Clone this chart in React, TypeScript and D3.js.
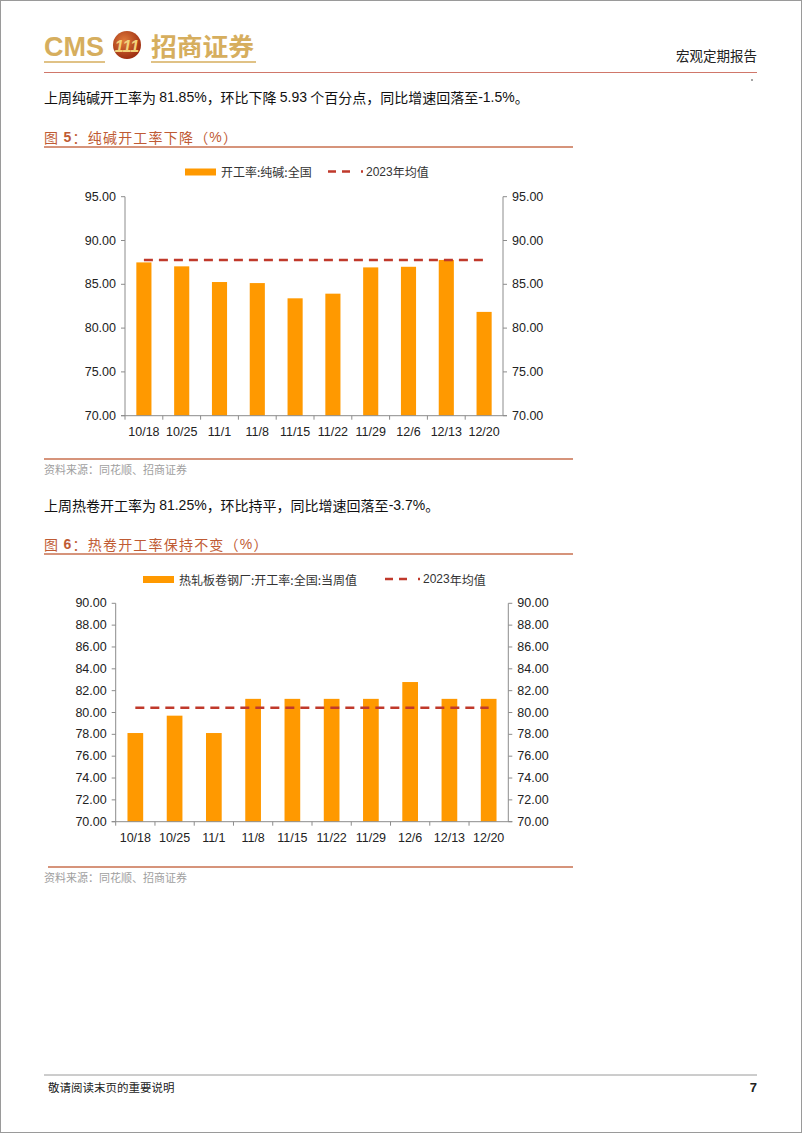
import React from "react";
import * as d3 from "d3";

const categories = ["10/18", "10/25", "11/1", "11/8", "11/15", "11/22", "11/29", "12/6", "12/13", "12/20"];
const sodaAshRate = [87.5, 87.05, 85.26, 85.14, 83.4, 83.93, 86.93, 87.0, 87.78, 81.85];
const sodaAshAvg2023 = 87.77;
const hotCoilRate = [78.12, 79.71, 78.12, 81.25, 81.25, 81.25, 81.25, 82.79, 81.25, 81.25];
const hotCoilAvg2023 = 80.44;
const chart1Ticks = [70, 75, 80, 85, 90, 95];
const chart2Ticks = [70, 72, 74, 76, 78, 80, 82, 84, 86, 88, 90];

const CJK = "'Noto Sans CJK SC', sans-serif";
const LAT = "'Liberation Sans', Arial, sans-serif";
const BAR = "#FF9900";
const AVG = "#C0392B";
const AXIS = "#8c8c8c";
const TITLE = "#BF5B34";
const RULE = "#C8704F";
const GOLD = "#D6AE5E";

type ChartProps = {
  values: number[];
  avg: number;
  ticks: number[];
  x0: number;
  x1: number;
  yTop: number;
  yBot: number;
  legendY: number;
  legendBarX: number;
  legendDashX: number;
  barLabel: string;
};

function BarChart(p: ChartProps) {
  const x = d3.scaleBand<string>().domain(categories).range([p.x0, p.x1]).paddingInner(0.6).paddingOuter(0.3);
  const y = d3.scaleLinear().domain([p.ticks[0], p.ticks[p.ticks.length - 1]]).range([p.yBot, p.yTop]);
  const step = x.step();
  const avgLine = d3
    .line<string>()
    .x((c) => (x(c) as number) + x.bandwidth() / 2)
    .y(() => y(p.avg));
  const fmt = d3.format(".2f");
  return (
    <g>
      <rect x={p.legendBarX} y={p.legendY - 3} width={31} height={7} fill={BAR} />
      <text x={p.legendBarX + 36} y={p.legendY} dominantBaseline="central" fontFamily={CJK} fontSize={12} fill="#333">
        {p.barLabel}
      </text>
      <line x1={p.legendDashX} x2={p.legendDashX + 27} y1={p.legendY} y2={p.legendY} stroke={AVG} strokeWidth={2.5} strokeDasharray="8,6" />
      <line x1={p.legendDashX + 33} x2={p.legendDashX + 35} y1={p.legendY} y2={p.legendY} stroke={AVG} strokeWidth={2.5} />
      <text x={p.legendDashX + 38} y={p.legendY} dominantBaseline="central" fontFamily={CJK} fontSize={12} fill="#333">
        <tspan fontFamily={LAT}>2023</tspan>年均值
      </text>
      {categories.map((c, i) => (
        <rect key={c} x={x(c)} y={y(p.values[i])} width={x.bandwidth()} height={p.yBot - y(p.values[i])} fill={BAR} />
      ))}
      <path d={avgLine(categories) || ""} stroke={AVG} strokeWidth={2.5} strokeDasharray="9,6" fill="none" />
      <line x1={p.x0} x2={p.x0} y1={p.yTop} y2={p.yBot} stroke={AXIS} />
      <line x1={p.x1} x2={p.x1} y1={p.yTop} y2={p.yBot} stroke={AXIS} />
      <line x1={p.x0 - 4} x2={p.x1 + 4} y1={p.yBot} y2={p.yBot} stroke={AXIS} />
      {p.ticks.map((t) => (
        <g key={t}>
          <line x1={p.x0 - 4} x2={p.x0} y1={y(t)} y2={y(t)} stroke={AXIS} />
          <line x1={p.x1} x2={p.x1 + 4} y1={y(t)} y2={y(t)} stroke={AXIS} />
          <text x={p.x0 - 9} y={y(t)} textAnchor="end" dominantBaseline="central" fontFamily={LAT} fontSize={12.5} fill="#222">
            {fmt(t)}
          </text>
          <text x={p.x1 + 9} y={y(t)} textAnchor="start" dominantBaseline="central" fontFamily={LAT} fontSize={12.5} fill="#222">
            {fmt(t)}
          </text>
        </g>
      ))}
      {categories.map((c, i) => (
        <g key={c}>
          <line x1={p.x0 + step * i} x2={p.x0 + step * i} y1={p.yBot} y2={p.yBot + 4} stroke={AXIS} />
          <text x={(x(c) as number) + x.bandwidth() / 2} y={p.yBot + 16} textAnchor="middle" dominantBaseline="central" fontFamily={LAT} fontSize={12.5} fill="#222">
            {c}
          </text>
        </g>
      ))}
    </g>
  );
}

function Para({ y, parts }: { y: number; parts: [string, boolean][] }) {
  return (
    <text x={44} y={y} dominantBaseline="central" fontSize={14} fill="#111" fontFamily={CJK}>
      {parts.map(([s, lat], i) => (
        <tspan key={i} fontFamily={lat ? LAT : CJK}>
          {s}
        </tspan>
      ))}
    </text>
  );
}

function Title({ y, num, text }: { y: number; num: string; text: string }) {
  return (
    <g>
      <text x={44} y={y} dominantBaseline="central" fontSize={14} fill={TITLE} fontFamily={CJK} letterSpacing={1.2}>
        图 <tspan fontFamily={LAT} fontWeight="bold">{num}</tspan>：{text}（<tspan fontFamily={LAT}>%</tspan>）
      </text>
      <line x1={44} x2={573} y1={y + 10} y2={y + 10} stroke={RULE} strokeWidth={1.5} />
    </g>
  );
}

export default function App() {
  return (
    <svg width={802} height={1133} style={{ position: "absolute", left: 0, top: 0, background: "#fff" }}>
      <rect x={0.5} y={0.5} width={801} height={1132} fill="#fff" stroke="#9a9a9a" />
      <text x={44} y={56} fontFamily={LAT} fontSize={27} fontWeight="bold" fill={GOLD} textLength={60} lengthAdjust="spacingAndGlyphs">
        CMS
      </text>
      <line x1={44} x2={105} y1={62} y2={62} stroke={GOLD} strokeWidth={1.5} />
      <defs>
        <radialGradient id="lg" cx="40%" cy="35%" r="65%">
          <stop offset="0%" stopColor="#E07A3A" />
          <stop offset="100%" stopColor="#9E2F12" />
        </radialGradient>
      </defs>
      <circle cx={127} cy={45} r={14} fill="url(#lg)" />
      <text x={127} y={46} textAnchor="middle" dominantBaseline="central" fontFamily={LAT} fontSize={16} fontStyle="italic" fontWeight="bold" fill="#F3D27A">
        111
      </text>
      <text x={151} y={45} dominantBaseline="central" fontFamily={CJK} fontSize={25} fontWeight="bold" fill={GOLD} textLength={103} lengthAdjust="spacingAndGlyphs">
        招商证券
      </text>
      <line x1={151} x2={256} y1={62} y2={62} stroke={GOLD} strokeWidth={1.5} />
      <text x={757} y={55} textAnchor="end" dominantBaseline="central" fontFamily={CJK} fontSize={13.5} fill="#222">
        宏观定期报告
      </text>
      <line x1={44} x2={757} y1={72.5} y2={72.5} stroke="#D0776A" strokeWidth={1.2} />
      <circle cx={752} cy={80} r={0.8} fill="#333" />

      <Para y={97} parts={[["上周纯碱开工率为 ", false], ["81.85%", true], ["，环比下降 ", false], ["5.93", true], [" 个百分点，同比增速回落至", false], ["-1.5%", true], ["。", false]]} />
      <Title y={137} num="5" text="纯碱开工率下降" />
      <BarChart
        values={sodaAshRate}
        avg={sodaAshAvg2023}
        ticks={chart1Ticks}
        x0={125}
        x1={503}
        yTop={196.7}
        yBot={415.7}
        legendY={171.5}
        legendBarX={185}
        legendDashX={328}
        barLabel="开工率:纯碱:全国"
      />
      <line x1={44} x2={573} y1={459} y2={459} stroke={RULE} strokeWidth={1.5} />
      <text x={44} y={469} dominantBaseline="central" fontFamily={CJK} fontSize={11} fill="#a0a0a0">
        资料来源：同花顺、招商证券
      </text>

      <Para y={505} parts={[["上周热卷开工率为 ", false], ["81.25%", true], ["，环比持平，同比增速回落至", false], ["-3.7%", true], ["。", false]]} />
      <Title y={544} num="6" text="热卷开工率保持不变" />
      <BarChart
        values={hotCoilRate}
        avg={hotCoilAvg2023}
        ticks={chart2Ticks}
        x0={115.7}
        x1={508.3}
        yTop={603.3}
        yBot={821.7}
        legendY={579}
        legendBarX={143}
        legendDashX={385}
        barLabel="热轧板卷钢厂:开工率:全国:当周值"
      />
      <line x1={48} x2={573} y1={867} y2={867} stroke={RULE} strokeWidth={1.5} />
      <text x={44} y={877} dominantBaseline="central" fontFamily={CJK} fontSize={11} fill="#a0a0a0">
        资料来源：同花顺、招商证券
      </text>

      <line x1={44} x2={757} y1={1075} y2={1075} stroke="#9a9a9a" strokeWidth={1} />
      <text x={48} y={1087} dominantBaseline="central" fontFamily={CJK} fontSize={11.5} fill="#222">
        敬请阅读末页的重要说明
      </text>
      <text x={757} y={1087} textAnchor="end" dominantBaseline="central" fontFamily={LAT} fontSize={13} fontWeight="bold" fill="#222">
        7
      </text>
    </svg>
  );
}
